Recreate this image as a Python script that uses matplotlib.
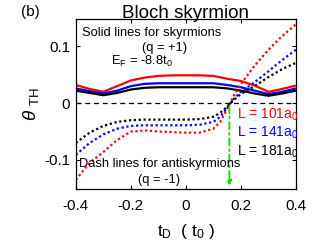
import numpy as np
import matplotlib
matplotlib.use('Agg')
import matplotlib.pyplot as plt

plt.rcParams['font.family'] = ['Liberation Sans', 'DejaVu Sans']
plt.rcParams['mathtext.fontset'] = 'custom'
plt.rcParams['mathtext.rm'] = 'Liberation Sans'
plt.rcParams['mathtext.it'] = 'Liberation Sans:italic'

# t_D values for the skyrmion curves (solid)
tD = [-0.4, -0.35, -0.3, -0.25, -0.2, -0.15, -0.1, -0.05, 0.0,
      0.05, 0.1, 0.15, 0.2, 0.25, 0.3, 0.35, 0.4]
sk_101 = [0.032, 0.025, 0.020, 0.030, 0.040, 0.045, 0.048, 0.049, 0.049,
          0.049, 0.048, 0.043, 0.039, 0.031, 0.020, 0.025, 0.031]
sk_141 = [0.026, 0.021, 0.017, 0.022, 0.030, 0.034, 0.035, 0.035, 0.035,
          0.035, 0.035, 0.032, 0.028, 0.022, 0.016, 0.020, 0.026]
sk_181 = [0.022, 0.018, 0.014, 0.018, 0.024, 0.027, 0.028, 0.028, 0.028,
          0.028, 0.028, 0.026, 0.022, 0.017, 0.013, 0.017, 0.022]

# t_D values for the antiskyrmion curves (dotted)
tD_a = [-0.4, -0.35, -0.3, -0.25, -0.2, -0.15, -0.1, -0.05, 0.0, 0.05,
        0.1, 0.125, 0.15, 0.175, 0.2, 0.25, 0.3, 0.35, 0.4]
ask_101 = [-0.135, -0.105, -0.086, -0.065, -0.050, -0.048, -0.050, -0.051, -0.052, -0.052,
           -0.045, -0.033, -0.010, 0.014, 0.034, 0.066, 0.094, 0.118, 0.139]
ask_141 = [-0.091, -0.070, -0.055, -0.045, -0.040, -0.039, -0.039, -0.039, -0.039, -0.038,
           -0.033, -0.024, -0.008, 0.008, 0.020, 0.037, 0.056, 0.076, 0.094]
ask_181 = [-0.070, -0.052, -0.040, -0.033, -0.030, -0.029, -0.029, -0.029, -0.029, -0.028,
           -0.024, -0.017, -0.006, 0.006, 0.016, 0.030, 0.046, 0.060, 0.071]

t_cross = 0.158
labels = ['L = 101a$_0$', 'L = 141a$_0$', 'L = 181a$_0$']
colors = ['#ff0000', '#0000ff', '#000000']

fig = plt.figure(figsize=(3.27, 2.45), dpi=100)
ax = fig.add_axes([0.232, 0.229, 0.673, 0.693])

for ys, c in zip([sk_101, sk_141, sk_181], colors):
    ax.plot(tD, ys, color=c, lw=1.6, solid_capstyle='butt')
for ys, c in zip([ask_101, ask_141, ask_181], colors):
    ax.plot(tD_a, ys, color=c, lw=1.6, linestyle=(0, (1, 1.2)))

ax.axhline(0, color='k', lw=0.9, linestyle=(0, (4, 3)))

ax.annotate('', xy=(t_cross, -0.150), xytext=(t_cross, 0.0),
            arrowprops=dict(arrowstyle='-|>', color='#00dd00', lw=1.3,
                            linestyle=(0, (4, 2, 1, 2)), mutation_scale=7))

ax.set_xlim(-0.4, 0.4)
ax.set_ylim(-0.151, 0.148)
ax.set_xticks([-0.4, -0.2, 0, 0.2, 0.4])
ax.set_xticklabels(['-0.4', '-0.2', '0', '0.2', '0.4'])
ax.set_yticks([-0.1, 0, 0.1])
ax.set_yticklabels(['-0.1', '0', '0.1'])
ax.tick_params(direction='in', top=True, right=True, labelsize=11, length=3, width=0.8, pad=4)
ax.tick_params(axis='x', pad=7)
for s in ax.spines.values():
    s.set_linewidth(0.9)

ax.set_title('Bloch skyrmion', fontsize=13.5, pad=1)
fig.text(0.065, 0.935, '(b)', fontsize=11)
ax.set_xlabel(r'$\mathregular{t_D}$  ( $\mathregular{t_0}$ )', fontsize=12.5, labelpad=7)
ax.set_ylabel(r'$\theta$ $\mathregular{_{TH}}$', fontsize=13.5, labelpad=2)

fs = 9.3
ax.text(0.03, 0.918, 'Solid lines for skyrmions', transform=ax.transAxes, fontsize=fs, va='center')
ax.text(0.405, 0.829, '(q = +1)', transform=ax.transAxes, fontsize=fs, va='center', ha='center')
ax.text(0.16, 0.75, r'E$_\mathregular{F}$ = -8.8t$_\mathregular{0}$', transform=ax.transAxes,
        fontsize=fs, va='center')
ax.text(0.015, 0.147, 'Dash lines for antiskyrmions', transform=ax.transAxes, fontsize=fs, va='center')
ax.text(0.377, 0.05, '(q = -1)', transform=ax.transAxes, fontsize=fs, va='center', ha='center')

label_y = [0.435, 0.33, 0.22]
for lab, c, yy in zip(labels, colors, label_y):
    ax.text(0.73, yy, lab, transform=ax.transAxes, fontsize=10, color=c, va='center')

fig.savefig('out.png', dpi=100)
